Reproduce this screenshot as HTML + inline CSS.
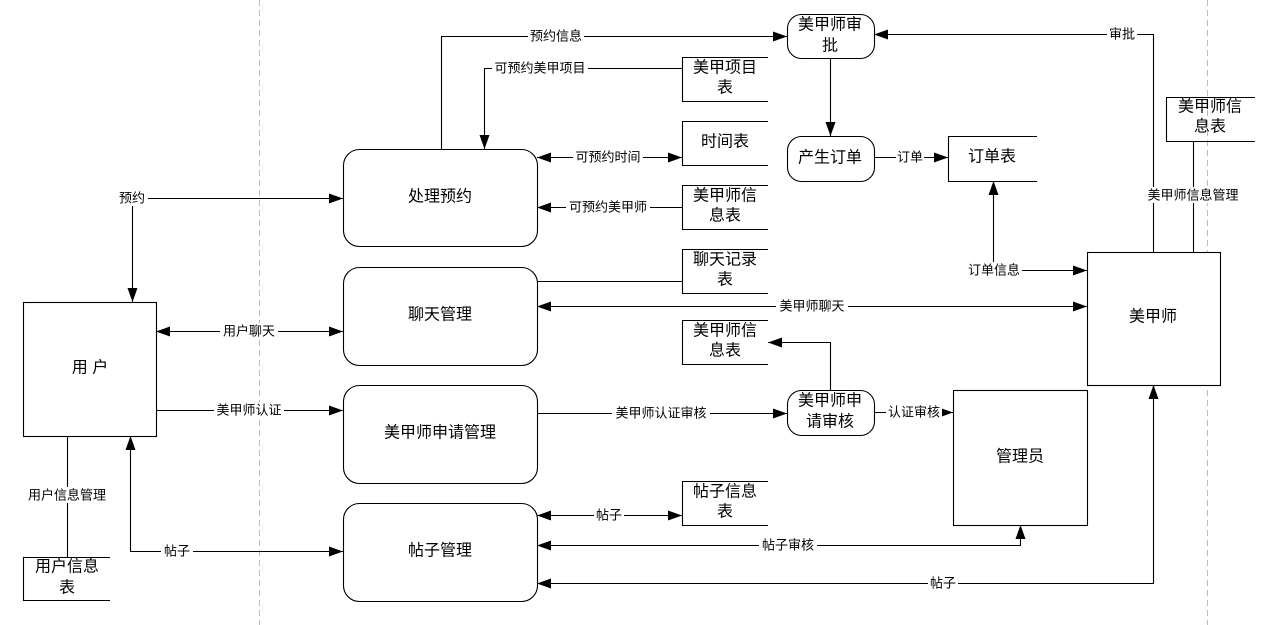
<!DOCTYPE html>
<html><head><meta charset="utf-8"><style>
html,body{margin:0;padding:0;background:#fff;}
svg{display:block;font-family:"Liberation Sans","Noto Sans CJK SC",sans-serif;}
.l{font-size:13px;}
.n{font-size:16px;}
</style></head><body>
<svg width="1276" height="625" viewBox="0 0 1276 625" xmlns="http://www.w3.org/2000/svg">
<defs>
<marker id="a" markerWidth="14" markerHeight="10" refX="14" refY="5" orient="auto" markerUnits="userSpaceOnUse">
<path d="M0,0 L14,5 L0,10 z" fill="#000"/></marker>
<marker id="s" markerWidth="14" markerHeight="10" refX="0" refY="5" orient="auto" markerUnits="userSpaceOnUse">
<path d="M14,0 L0,5 L14,10 z" fill="#000"/></marker>
</defs>
<g stroke="#bbb" stroke-dasharray="6,4" stroke-width="1">
<line x1="259.5" y1="0" x2="259.5" y2="625"/>
<line x1="1207.5" y1="0" x2="1207.5" y2="625"/>
</g>
<g fill="none" stroke="#000" stroke-width="1.1">
<rect x="23.5" y="302.5" width="133" height="134" fill="#fff"/>
<rect x="1087.5" y="252.5" width="133" height="133" fill="#fff"/>
<rect x="953.5" y="390.5" width="134" height="135" fill="#fff"/>
<rect x="343.5" y="149.5" width="194" height="97" rx="16" fill="#fff"/>
<rect x="343.5" y="267.5" width="194" height="98" rx="16" fill="#fff"/>
<rect x="343.5" y="385.5" width="194" height="98" rx="16" fill="#fff"/>
<rect x="343.5" y="503.5" width="194" height="98" rx="16" fill="#fff"/>
<rect x="787.5" y="14.5" width="87" height="44" rx="14" fill="#fff"/>
<rect x="787.5" y="136.5" width="87" height="45" rx="14" fill="#fff"/>
<rect x="787.5" y="390.5" width="87" height="45" rx="14" fill="#fff"/>
<path d="M110,557.5 H23.5 V600.5 H110"/>
<path d="M768,57.5 H682.5 V101.5 H768"/>
<path d="M768,121.5 H682.5 V165.5 H768"/>
<path d="M768,185.5 H682.5 V229.5 H768"/>
<path d="M768,249.5 H682.5 V293.5 H768"/>
<path d="M768,320.5 H682.5 V364.5 H768"/>
<path d="M768,481.5 H682.5 V525.5 H768"/>
<path d="M1037,136.5 H948.5 V181.5 H1037"/>
<path d="M1255,97.5 H1166.5 V141.5 H1255"/>
<path d="M441.5,149 V36.5 H787" marker-end="url(#a)"/>
<path d="M682,68.5 H484.5 V149" marker-end="url(#a)"/>
<path d="M537,157.5 H682" marker-start="url(#s)" marker-end="url(#a)"/>
<path d="M682,207.5 H537" marker-end="url(#a)"/>
<path d="M1153.5,252 V34.5 H874" marker-end="url(#a)"/>
<path d="M830.5,58 V136" marker-end="url(#a)"/>
<path d="M874,157.5 H948" marker-end="url(#a)"/>
<path d="M993.5,262 V181" marker-end="url(#a)"/>
<path d="M1020,270.5 H1087" marker-end="url(#a)"/>
<path d="M1193.5,141 V252"/>
<path d="M537,281.5 H682"/>
<path d="M537,306.5 H1087" marker-start="url(#s)" marker-end="url(#a)"/>
<path d="M156,331.5 H343" marker-start="url(#s)" marker-end="url(#a)"/>
<path d="M156,410.5 H343" marker-end="url(#a)"/>
<path d="M537,413.5 H787" marker-end="url(#a)"/>
<path d="M874,412.5 H953" marker-end="url(#a)"/>
<path d="M830.5,390 V342.5 H768" marker-end="url(#a)"/>
<path d="M148,198.5 H343" marker-end="url(#a)"/>
<path d="M132.5,206 V302" marker-end="url(#a)"/>
<path d="M67.5,436 V557"/>
<path d="M343,551.5 H130.5 V436" marker-start="url(#s)" marker-end="url(#a)"/>
<path d="M537,515.5 H682" marker-start="url(#s)" marker-end="url(#a)"/>
<path d="M537,545.5 H1020.5 V525" marker-start="url(#s)" marker-end="url(#a)"/>
<path d="M537,583.5 H1153.5 V385" marker-start="url(#s)" marker-end="url(#a)"/>
</g>
<g class="l" text-anchor="middle" dominant-baseline="central">
<g fill="#fff"><rect x="528" y="28" width="56" height="16"/><rect x="492" y="60" width="96" height="16"/>
<rect x="573" y="149" width="70" height="16"/><rect x="566" y="199" width="84" height="16"/>
<rect x="1107" y="26" width="30" height="16"/><rect x="896" y="149" width="28" height="16"/>
<rect x="966" y="262" width="56" height="16"/><rect x="1145" y="187" width="96" height="16"/>
<rect x="776" y="298" width="72" height="16"/><rect x="220" y="323" width="58" height="16"/>
<rect x="214" y="402" width="70" height="16"/><rect x="612" y="405" width="98" height="16"/>
<rect x="886" y="404" width="56" height="16"/><rect x="116" y="190" width="32" height="16"/>
<rect x="26" y="487" width="82" height="16"/><rect x="161" y="543" width="32" height="16"/>
<rect x="594" y="507" width="30" height="16"/><rect x="759" y="537" width="58" height="16"/>
<rect x="928" y="575" width="30" height="16"/></g>
<text x="556" y="36">预约信息</text>
<text x="540" y="68">可预约美甲项目</text>
<text x="608" y="157">可预约时间</text>
<text x="608" y="207">可预约美甲师</text>
<text x="1122" y="34">审批</text>
<text x="910" y="157">订单</text>
<text x="994" y="270">订单信息</text>
<text x="1193" y="195">美甲师信息管理</text>
<text x="812" y="306">美甲师聊天</text>
<text x="249" y="331">用户聊天</text>
<text x="249" y="410">美甲师认证</text>
<text x="661" y="413">美甲师认证审核</text>
<text x="914" y="412">认证审核</text>
<text x="132" y="198">预约</text>
<text x="67" y="495">用户信息管理</text>
<text x="177" y="551">帖子</text>
<text x="609" y="515">帖子</text>
<text x="788" y="545">帖子审核</text>
<text x="943" y="583">帖子</text>
</g>
<g class="n" text-anchor="middle" dominant-baseline="central">
<text x="90" y="368">用 户</text>
<text x="67" y="567">用户信息</text><text x="67" y="588">表</text>
<text x="440" y="197">处理预约</text>
<text x="440" y="315">聊天管理</text>
<text x="440" y="433">美甲师申请管理</text>
<text x="440" y="551">帖子管理</text>
<text x="830" y="25">美甲师审</text><text x="830" y="46">批</text>
<text x="830" y="158">产生订单</text>
<text x="830" y="401">美甲师申</text><text x="830" y="422">请审核</text>
<text x="725" y="68">美甲项目</text><text x="725" y="88">表</text>
<text x="725" y="142">时间表</text>
<text x="725" y="196">美甲师信</text><text x="725" y="216">息表</text>
<text x="725" y="260">聊天记录</text><text x="725" y="280">表</text>
<text x="725" y="331">美甲师信</text><text x="725" y="351">息表</text>
<text x="725" y="492">帖子信息</text><text x="725" y="512">表</text>
<text x="992" y="157">订单表</text>
<text x="1210" y="107">美甲师信</text><text x="1210" y="127">息表</text>
<text x="1153" y="317">美甲师</text>
<text x="1020" y="457">管理员</text>
</g>
</svg>
</body></html>
